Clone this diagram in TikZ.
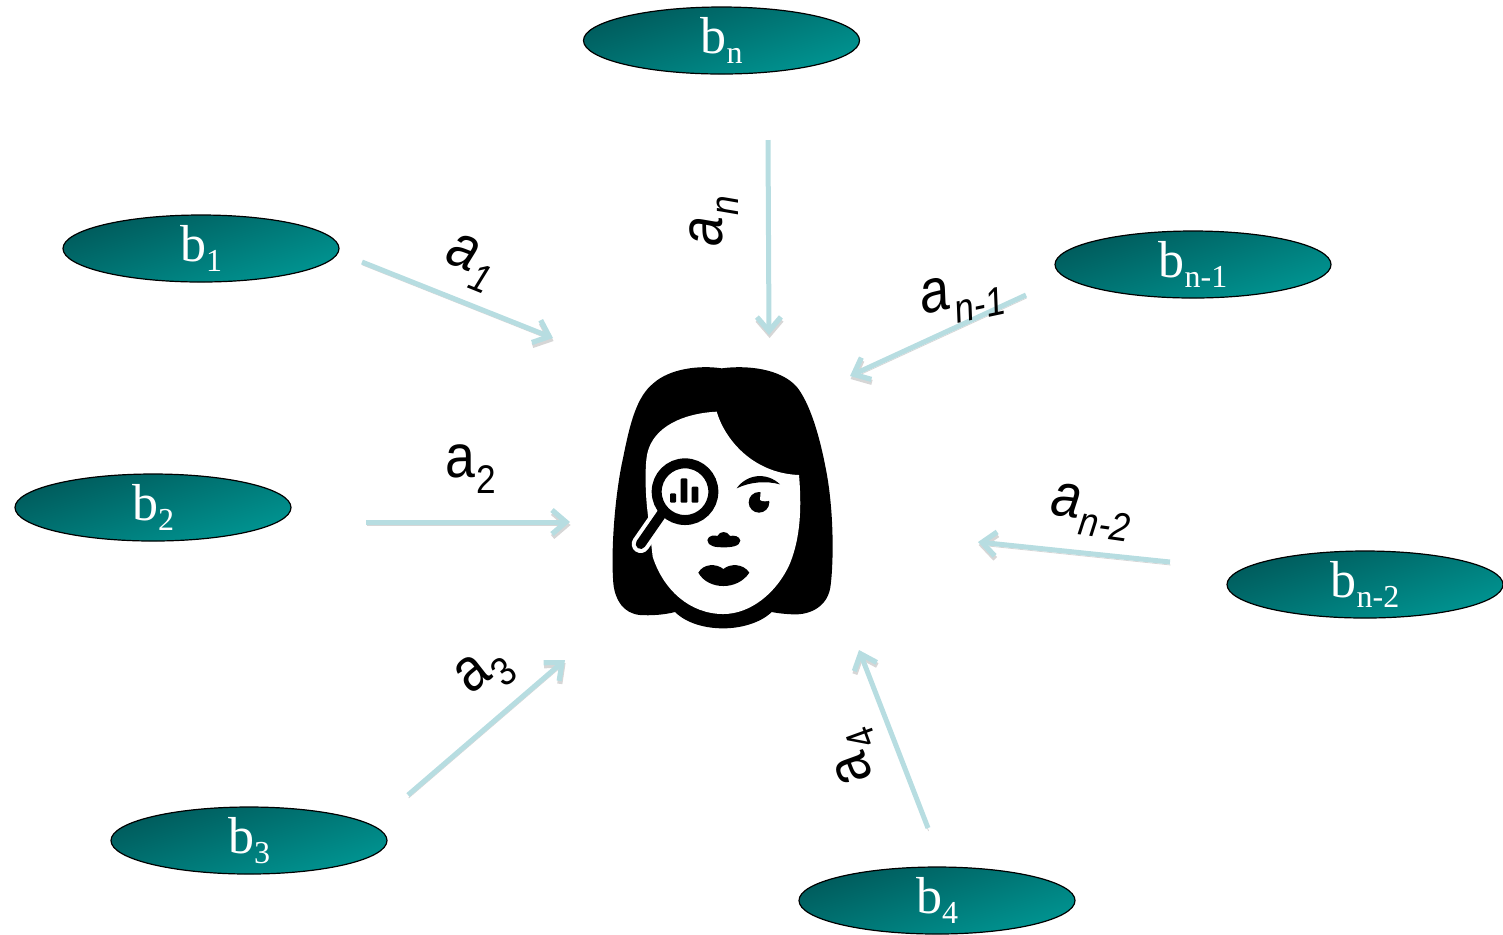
\documentclass[tikz,border=0pt]{standalone}
\usepackage{fontspec}
\setmainfont{Liberation Serif}
\newfontfamily\arialfont{Liberation Sans}
\usetikzlibrary{arrows.meta,shapes.geometric}
\definecolor{tealdark}{HTML}{005A5B}
\definecolor{teallight}{HTML}{009592}
\definecolor{arrowblue}{HTML}{B7DDE1}
\newcommand{\bsub}[1]{\raisebox{3pt}{b\raisebox{-5pt}{\fontsize{16}{16}\selectfont #1}}}
\newcommand{\asub}[1]{\scalebox{0.88}[1]{a\hspace{0.8pt}\raisebox{-8pt}{\fontsize{20}{20}\selectfont #1}}}
\tikzset{
  disc/.style={ellipse,draw=black,line width=0.6pt,minimum width=138pt,minimum height=33.5pt,inner sep=0pt,
    top color=tealdark,bottom color=teallight,shading angle=18,text=white,font=\fontsize{26}{26}\selectfont},
  flow/.style={draw=arrowblue,line width=2.5pt,-{Straight Barb[length=7pt,width=12pt,line width=2.6pt]},
    preaction={draw=black,opacity=0.16,transform canvas={yshift=-1.5pt,xshift=0.3pt}}},
  lab/.style={inner sep=0pt,text=black,font=\arialfont\fontsize{30.5}{30.5}\selectfont},
  facefill/.style={fill=black,draw=none},
  skin/.style={fill=white,draw=none}
}
\begin{document}
\begin{tikzpicture}[x=0.5pt,y=-0.5pt]
\useasboundingbox (0,0) rectangle (1503,934);
% ellipses
\node[disc] (bn) at (721.5,40.5) {\bsub{n}};
\node[disc] (b1) at (201,248.5) {\bsub{1}};
\node[disc] (b2) at (153,507.5) {\bsub{2}};
\node[disc] (b3) at (249,840.5) {\bsub{3}};
\node[disc] (b4) at (937,900.5) {\bsub{4}};
\node[disc] (bn1) at (1193,264.5) {\bsub{n-1}};
\node[disc] (bn2) at (1365,584.5) {\bsub{n-2}};
% arrow end points
\coordinate (s1) at (362,262); \coordinate (e1) at (553,338);
\coordinate (sn) at (768,140); \coordinate (en) at (769,335);
\coordinate (sn1) at (1026,295); \coordinate (en1) at (850,376);
\coordinate (s2) at (366,522); \coordinate (e2) at (570,522);
\coordinate (sn2) at (1170,562); \coordinate (en2) at (978,542);
\coordinate (s3) at (408,795); \coordinate (e3) at (565,660);
\coordinate (s4) at (928,828); \coordinate (e4) at (859,650);
\draw[flow] (s1) -- (e1);
\draw[flow] (sn) -- (en);
\draw[flow] (sn1) -- (en1);
\draw[flow] (s2) -- (e2);
\draw[flow] (sn2) -- (en2);
\draw[flow] (s3) -- (e3);
\draw[flow] (s4) -- (e4);
% labels
\node[lab,rotate=-22] (l1) at (470,263) {\itshape\asub{1}};
\node[lab,rotate=90] (ln) at (714,221) {\itshape\asub{n}};
\node[lab,rotate=12] (ln1) at (962,298) {\itshape\asub{n-1}};
\node[lab] (l2) at (471,469) {\asub{2}};
\node[lab,rotate=-8] (ln2) at (1091,512) {\itshape\asub{n-2}};
\node[lab,rotate=38] (l3) at (485,673) {\asub{3}};
\node[lab,rotate=110] (l4) at (857,756) {\asub{4}};
% face
\begin{scope}[shift={(590,350)},x=0.16667pt,y=-0.16667pt]
\path[facefill] (395,55) .. controls (470,45) and (570,55) .. (620,110)
  .. controls (660,160) and (690,260) .. (710,370)
  .. controls (730,480) and (732,620) .. (722,705)
  .. controls (715,770) and (660,795) .. (610,793)
  .. controls (585,792) and (565,790) .. (545,786)
  .. controls (510,820) and (450,835) .. (400,835)
  .. controls (345,835) and (290,820) .. (255,786)
  .. controls (220,795) and (180,797) .. (150,795)
  .. controls (100,790) and (75,750) .. (70,700)
  .. controls (62,600) and (75,430) .. (100,320)
  .. controls (120,220) and (140,140) .. (190,100)
  .. controls (240,55) and (330,45) .. (395,55) -- cycle;
\path[skin] (380,185) .. controls (405,270) and (490,370) .. (627,375)
  .. controls (635,470) and (632,560) .. (600,640)
  .. controls (560,730) and (480,792) .. (400,792)
  .. controls (300,792) and (220,720) .. (188,620)
  -- (172,480)
  .. controls (165,420) and (165,340) .. (172,310)
  .. controls (190,230) and (280,190) .. (380,185) -- cycle;
% magnifier
\draw[white,line width=9pt,line cap=round] (218,487) -- (152,582);
\draw[black,line width=5pt,line cap=round] (218,487) -- (152,582);
\draw[black,fill=white,line width=5pt] (285,425) circle [radius=85];
\path[fill=black,rounded corners=0.5pt] (240,430) rectangle (258,458);
\path[fill=black,rounded corners=0.5pt] (272,385) rectangle (292,458);
\path[fill=black,rounded corners=0.5pt] (305,410) rectangle (325,458);
% eye and brow
\path[fill=black] (507,457) circle [radius=31];
\path[fill=white] (510,450) -- (512,424) -- (545,428) -- (540,451) .. controls (530,455) and (518,455) .. (510,450) -- cycle;
\path[fill=black] (440,415) .. controls (470,372) and (530,365) .. (570,403)
  .. controls (530,392) and (480,395) .. (440,415) -- cycle;
% nose
\path[fill=black] (352,570) .. controls (355,555) and (375,555) .. (382,558)
  .. controls (390,542) and (412,542) .. (420,558)
  .. controls (430,555) and (450,558) .. (451,572)
  .. controls (450,590) and (420,592) .. (400,592)
  .. controls (380,592) and (352,590) .. (352,570) -- cycle;
% lips
\path[fill=black] (325,668) .. controls (340,640) and (380,640) .. (400,657)
  .. controls (420,640) and (460,640) .. (478,668)
  .. controls (460,695) and (430,708) .. (400,708)
  .. controls (370,708) and (340,695) .. (325,668) -- cycle;
\end{scope}
\end{tikzpicture}
\end{document}
